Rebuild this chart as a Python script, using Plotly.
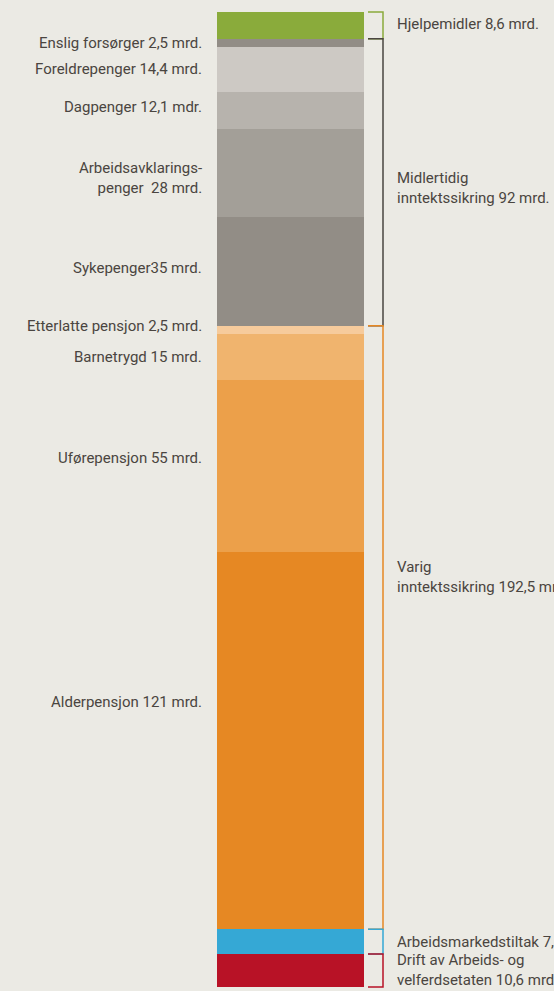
import plotly.graph_objects as go

# ---- data ----
segments = ["Hjelpemidler", "Enslig forsørger", "Foreldrepenger", "Dagpenger",
            "Arbeidsavklaringspenger", "Sykepenger", "Etterlatte pensjon", "Barnetrygd",
            "Uførepensjon", "Alderpensjon", "Arbeidsmarkedstiltak", "Drift av Arbeids- og velferdsetaten"]
values = [8.6, 2.5, 14.4, 12.1, 28, 35, 2.5, 15, 55, 121, 7.9, 10.6]
left_labels = [None, "Enslig forsørger 2,5 mrd.", "Foreldrepenger 14,4 mrd.", "Dagpenger 12,1 mdr.",
               "Arbeidsavklarings-<br>penger  28 mrd.", "Sykepenger35 mrd.", "Etterlatte pensjon 2,5 mrd.",
               "Barnetrygd 15 mrd.", "Uførepensjon 55 mrd.", "Alderpensjon 121 mrd.", None, None]
groups = ["Hjelpemidler 8,6 mrd.", "Midlertidig<br>inntektssikring 92 mrd.",
          "Varig<br>inntektssikring 192,5 mrd.", "Arbeidsmarkedstiltak 7,9 mrd.",
          "Drift av Arbeids- og<br>velferdsetaten 10,6 mrd."]
group_sizes = [1, 5, 4, 1, 1]  # number of segments in each group

# ---- style ----
seg_colors = ["#8aab3b", "#928d86", "#cdc9c4", "#b7b3ad", "#a39f98", "#928d86",
              "#f6cb9c", "#f0b46e", "#eca04a", "#e68823", "#35a8d5", "#b81226"]
group_colors = ["#8aab3b", "#4a4540", "#e68823", "#35a8d5", "#b81226"]
left_shift = [0, 0, 0, 3, -5, 3, 4, 0, 8, 39, 0, 0]
group_shift = [1, -6, 51, 0, 0]
bg = "#ebeae4"
txt = "#4a4540"
font_family = "Roboto"
fs = 15

total = sum(values)
k = 975 / total
pad_top = 12 / k
pad_bot = 4 / k

fig = go.Figure()
for name, v, c in zip(segments, values, seg_colors):
    fig.add_trace(go.Bar(x=[290.5], y=[v], width=147, name=name, marker=dict(color=c, line=dict(width=0)),
                         hoverinfo="name+y"))

annotations = []
shapes = []
starts = []
cum = 0
for v in values:
    starts.append(cum)
    cum += v

for i, lab in enumerate(left_labels):
    if lab is None:
        continue
    annotations.append(dict(x=204, y=starts[i] + values[i] / 2, xref="x", yref="y", text=lab,
                            showarrow=False, xanchor="right", yanchor="middle", align="right",
                            yshift=left_shift[i], font=dict(size=fs, color=txt, family=font_family)))

idx = 0
for g, (lab, n) in enumerate(zip(groups, group_sizes)):
    y0 = starts[idx]
    y1 = starts[idx + n - 1] + values[idx + n - 1]
    idx += n
    shapes.append(dict(type="path", xref="x", yref="y",
                       path=f"M 368,{y0} L 383,{y0} L 383,{y1} L 368,{y1}",
                       line=dict(color=group_colors[g], width=1.5)))
    annotations.append(dict(x=395, y=(y0 + y1) / 2, xref="x", yref="y", text=lab,
                            showarrow=False, xanchor="left", yanchor="middle", align="left",
                            yshift=group_shift[g], font=dict(size=fs, color=txt, family=font_family)))

fig.update_layout(
    width=554, height=991,
    margin=dict(l=0, r=0, t=0, b=0),
    barmode="stack", bargap=0,
    showlegend=False,
    paper_bgcolor=bg, plot_bgcolor=bg,
    xaxis=dict(range=[0, 554], visible=False, fixedrange=True),
    yaxis=dict(range=[total + pad_bot, -pad_top], visible=False, fixedrange=True),
    annotations=annotations, shapes=shapes,
)
fig.write_html("out.html", config={"displayModeBar": False},
               post_script="document.body.style.margin='0';document.body.style.background='%s';" % bg)
